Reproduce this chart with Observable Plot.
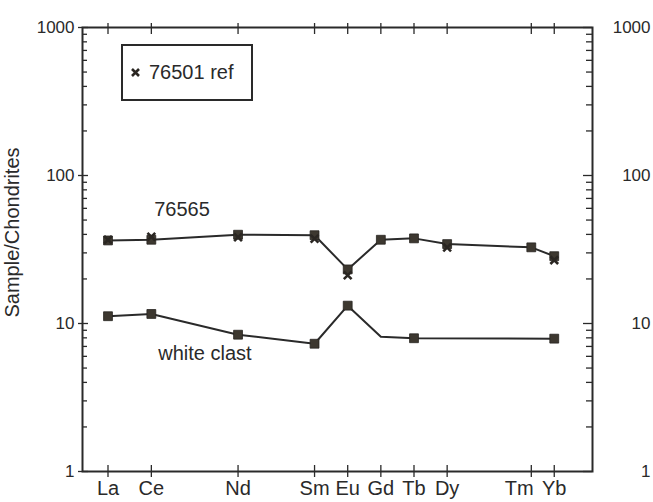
<!DOCTYPE html>
<html>
<head>
<meta charset="utf-8">
<script src="https://cdn.jsdelivr.net/npm/d3@7"></script>
<script src="https://cdn.jsdelivr.net/npm/@observablehq/plot@0.6"></script>
<style>
  body { margin: 0; background: #ffffff; }
  #wrap { position: relative; width: 653px; height: 502px; font-family: "Liberation Sans", Arial, sans-serif; color: #2a2a2a; }
  #wrap svg.chart { position: absolute; left: 0; top: 0; }
  #legend { position: absolute; left: 121px; top: 44px; width: 128px; height: 53px; border: 2px solid #2a2a2a;
            display: flex; align-items: center; font-size: 20px; background: #fff; z-index: 2; }
  #legend svg { margin-left: 8px; margin-right: 9px; }
</style>
</head>
<body>
<div id="wrap"></div>
<script>
// ---- data ----
const elements     = ["La", "Ce", "Nd", "Sm", "Eu", "Gd", "Tb", "Dy", "Tm", "Yb"];
const ionicRadius  = [1.160, 1.143, 1.109, 1.079, 1.066, 1.053, 1.040, 1.027, 0.994, 0.985];
const sample76565  = [36.4, 36.8, 39.8, 39.5, 23.2, 36.8, 37.6, 34.4, 32.7, 28.5];
const ref76501     = [36.8, 38.6, 38.3, 37.4, 21.2, null, null, 32.6, null, 26.8];
const whiteClast   = [11.2, 11.6, 8.4, 7.3, 13.2, 8.15, 7.95, null, null, 7.9];
const whiteClastMarker = [true, true, true, true, true, false, true, false, false, true];
const yTickValues  = [1, 10, 100, 1000];
const seriesLabels = ["76565", "white clast"];
const seriesLabelX = [1.131, 1.122];
const seriesLabelY = [59, 6.3];
const legendLabel  = "76501 ref";
const yLabel       = "Sample/Chondrites";

// ---- build table ----
const rows = elements.map((el, i) => ({
  el, r: ionicRadius[i], s: sample76565[i], ref: ref76501[i], wc: whiteClast[i], wcm: whiteClastMarker[i]
}));
const labelRows = seriesLabels.map((t, i) => ({t, x: seriesLabelX[i], y: seriesLabelY[i]}));
const minorTicks = [];
for (const d of [1, 10, 100]) for (let k = 2; k <= 9; k++) minorTicks.push(d * k);
const elName = d => elements[ionicRadius.indexOf(d)];
const shiftedLabel = "Tm"; // crowded label nudged left, as in the reference
const xTicksMain = ionicRadius.filter(d => elName(d) !== shiftedLabel);
const xTicksShifted = ionicRadius.filter(d => elName(d) === shiftedLabel);

const W = 653, H = 502;
const mL = 82, mR = 61, mT = 27, mB = 31;
const iW = W - mL - mR, iH = H - mT - mB;
const ink = "#2a2a2a";
const markFill = "#3d3830";

const chart = Plot.plot({
  width: W, height: H,
  marginLeft: mL, marginRight: mR, marginTop: mT, marginBottom: mB,
  style: {fontFamily: '"Liberation Sans", Arial, sans-serif', color: ink, background: "transparent"},
  x: {type: "linear", domain: [1.17, 0.97]},
  y: {type: "log", domain: [1, 1000]},
  marks: [
    // ticks
    Plot.ruleY(minorTicks, {y: d => d, insetRight: iW - 5, stroke: ink, strokeWidth: 1.3}),
    Plot.ruleY(yTickValues, {y: d => d, insetLeft: -4, insetRight: iW - 6, stroke: ink, strokeWidth: 1.3}),
    Plot.ruleY(minorTicks, {y: d => d, insetLeft: iW - 6, stroke: ink, strokeWidth: 1.3}),
    Plot.ruleY(yTickValues, {y: d => d, insetLeft: iW - 9, stroke: ink, strokeWidth: 1.3}),
    Plot.ruleX(ionicRadius, {x: d => d, insetTop: -4, insetBottom: iH - 7, stroke: ink, strokeWidth: 1.3}),
    Plot.ruleX(ionicRadius, {x: d => d, insetBottom: -6, insetTop: iH - 6, stroke: ink, strokeWidth: 1.3}),
    Plot.frame({stroke: ink, strokeWidth: 2}),
    // axes text
    Plot.axisY({anchor: "left", ticks: yTickValues, tickFormat: d => String(d), tickSize: 0, tickPadding: 8, fontSize: 17, label: null}),
    Plot.text(yTickValues, {y: d => d, text: d => String(d), frameAnchor: "right", textAnchor: "end", dx: 58, fontSize: 17, fill: ink}),
    Plot.axisX({anchor: "bottom", ticks: xTicksMain, tickFormat: elName, tickSize: 0, tickPadding: 9, fontSize: 20, label: null}),
    Plot.axisX({anchor: "bottom", ticks: xTicksShifted, tickFormat: elName, tickSize: 0, tickPadding: 9, fontSize: 20, dx: -12, label: null}),
    Plot.text([yLabel], {frameAnchor: "left", textAnchor: "middle", rotate: -90, dx: -70, dy: -17, fontSize: 20, fill: ink}),
    // data
    Plot.line(rows, {x: "r", y: "s", stroke: ink, strokeWidth: 2}),
    Plot.line(rows.filter(d => d.wc != null), {x: "r", y: "wc", stroke: ink, strokeWidth: 2}),
    Plot.dot(rows, {x: "r", y: "s", symbol: "square", r: 5, fill: markFill, stroke: "#262320", strokeWidth: 0.8}),
    Plot.dot(rows.filter(d => d.wcm), {x: "r", y: "wc", symbol: "square", r: 5, fill: markFill, stroke: "#262320", strokeWidth: 0.8}),
    Plot.dot(rows.filter(d => d.ref != null), {x: "r", y: "ref", symbol: "times", r: 3.6, stroke: "#2a2622", strokeWidth: 2.6}),
    // series labels
    Plot.text(labelRows, {x: "x", y: "y", text: "t", fontSize: 20, fill: ink})
  ]
});
chart.classList.add("chart");
const wrap = document.getElementById("wrap");
wrap.appendChild(chart);

const legend = document.createElement("div");
legend.id = "legend";
legend.innerHTML = `<svg width="9" height="9" viewBox="0 0 9 9"><path d="M1,1L8,8M8,1L1,8" stroke="#2a2622" stroke-width="2.6"/></svg><span></span>`;
legend.querySelector("span").textContent = legendLabel;
wrap.appendChild(legend);
</script>
</body>
</html>
